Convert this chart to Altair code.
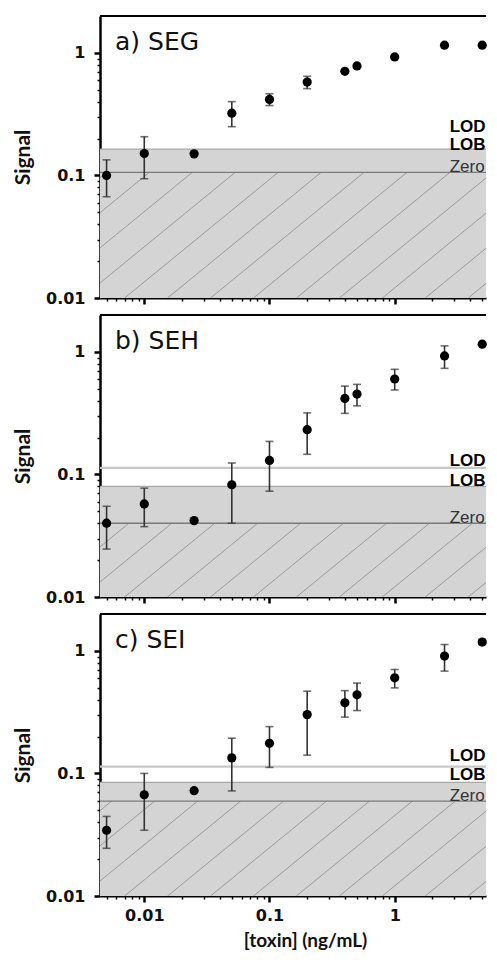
import altair as alt
import pandas as pd
import numpy as np

# ---------------- data ----------------
conc = [0.005, 0.01, 0.025, 0.05, 0.1, 0.2, 0.4, 0.5, 1, 2.5, 5]

seg_mean = [0.100, 0.151, 0.150, 0.322, 0.417, 0.578, 0.708, 0.782, 0.927, 1.156, 1.156]
seg_low  = [0.067, 0.094, 0.150, 0.250, 0.372, 0.511, 0.708, 0.782, 0.927, 1.156, 1.156]
seg_high = [0.134, 0.207, 0.150, 0.400, 0.464, 0.644, 0.708, 0.782, 0.927, 1.156, 1.156]

seh_mean = [0.040, 0.0575, 0.042, 0.0824, 0.130, 0.232, 0.417, 0.453, 0.601, 0.927, 1.156]
seh_low  = [0.0246, 0.0375, 0.042, 0.040, 0.073, 0.146, 0.315, 0.363, 0.489, 0.734, 1.156]
seh_high = [0.055, 0.0773, 0.042, 0.124, 0.186, 0.318, 0.526, 0.543, 0.721, 1.120, 1.156]

sei_mean = [0.0344, 0.067, 0.0723, 0.134, 0.176, 0.302, 0.377, 0.438, 0.603, 0.907, 1.180]
sei_low  = [0.0245, 0.0344, 0.0723, 0.072, 0.112, 0.141, 0.288, 0.326, 0.499, 0.684, 1.130]
sei_high = [0.0446, 0.100, 0.0723, 0.194, 0.241, 0.469, 0.474, 0.546, 0.705, 1.127, 1.240]

panel_titles = ["a) SEG", "b) SEH", "c) SEI"]
lod_line = [None, 0.113, 0.1135]
lob_line = [0.164, 0.080, 0.0845]
zero_line = [0.106, 0.040, 0.0594]
lod_label_y = [0.226, 0.118, 0.126]
lob_label_y = [0.162, 0.081, 0.089]
zero_label_y = [0.106, 0.040, 0.0594]
label_x = 2.75
threshold_names = ["LOD", "LOB", "Zero"]

x_major = [0.01, 0.1, 1]
x_major_labels = ["0.01", "0.1", "1"]
x_minor = [0.005, 0.006, 0.007, 0.008, 0.009,
           0.02, 0.03, 0.04, 0.05, 0.06, 0.07, 0.08, 0.09,
           0.2, 0.3, 0.4, 0.5, 0.6, 0.7, 0.8, 0.9,
           2, 3, 4, 5]
y_major = [0.01, 0.1, 1]
y_major_labels = ["0.01", "0.1", "1"]
y_minor = [0.02, 0.03, 0.04, 0.05, 0.06, 0.07, 0.08, 0.09,
           0.2, 0.3, 0.4, 0.5, 0.6, 0.7, 0.8, 0.9]

x_title = "[toxin] (ng/mL)"
y_title = "Signal"

# ---------------- layout / style ----------------
XMIN, XMAX = 0.00443, 5.36
YMIN, YMAX = 0.01, 2.0
W, H = 386, 282

HATCH_SLOPE = 0.836      # decades of y per decade of x
HATCH_STEP = 0.343       # decades of x between hatch lines
HATCH_PHASE = -2.157     # log10 x where a hatch line meets the bottom

xscale = alt.Scale(type="log", domain=[XMIN, XMAX], nice=False)
yscale = alt.Scale(type="log", domain=[YMIN, YMAX], nice=False)


def label_expr(values, labels):
    parts = " : ".join(f"datum.value == {v} ? '{l}'" for v, l in zip(values, labels))
    return parts + " : ''"


def major_test(values):
    return " || ".join(f"datum.value == {v}" for v in values)


def x_axis(show_labels):
    kw = dict(
        values=x_minor + x_major,
        tickSize={"condition": {"test": major_test(x_major), "value": 6}, "value": 3},
        tickWidth={"condition": {"test": major_test(x_major), "value": 2.5}, "value": 1.5},
        tickColor="black",
        domainColor="black",
        domainWidth=2,
        grid=False,
    )
    if show_labels:
        kw.update(
            labelExpr=label_expr(x_major, x_major_labels),
            labelFont="DejaVu Sans", labelFontWeight="bold", labelFontSize=16,
            labelColor="#111111", labelPadding=5, labelFlush=False,
            labelOverlap=False,
            title=x_title, titleFont="Lato", titleFontWeight="bold",
            titleFontSize=19, titleColor="#111111", titlePadding=8,
            titleX=205,
        )
    else:
        kw.update(labels=False, title=None)
    return alt.Axis(**kw)


def y_axis():
    return alt.Axis(
        values=y_minor + y_major,
        labelExpr=label_expr(y_major, y_major_labels),
        tickSize={"condition": {"test": major_test(y_major), "value": 6}, "value": 3},
        tickWidth={"condition": {"test": major_test(y_major), "value": 2.5}, "value": 1.5},
        tickColor="black",
        domainColor="black",
        domainWidth=2.5,
        grid=False,
        labelFont="DejaVu Sans", labelFontWeight="bold", labelFontSize=16,
        labelColor="#111111", labelPadding=9, labelOverlap=False, labelFlush=False,
        title=y_title, titleFont="Lato", titleFontWeight="bold",
        titleFontSize=21, titleColor="#111111", titlePadding=12,
    )


def hatch_frame(zero_val):
    """Diagonal hatch lines below the Zero level, clipped to the plot box."""
    lz = np.log10(zero_val)
    ly0 = np.log10(YMIN)
    lxa, lxb = np.log10(XMIN), np.log10(XMAX)
    rows = []
    for k in range(-15, 25):
        lx0 = HATCH_PHASE + k * HATCH_STEP
        lx1 = lx0 + (lz - ly0) / HATCH_SLOPE
        t0 = max(0.0, (lxa - lx0) / (lx1 - lx0))
        t1 = min(1.0, (lxb - lx0) / (lx1 - lx0))
        if t0 >= t1:
            continue
        rows.append({
            "x": 10 ** (lx0 + t0 * (lx1 - lx0)), "y": 10 ** (ly0 + t0 * (lz - ly0)),
            "x2": 10 ** (lx0 + t1 * (lx1 - lx0)), "y2": 10 ** (ly0 + t1 * (lz - ly0)),
        })
    return pd.DataFrame(rows)


def panel(i, mean, low, high, bottom):
    df = pd.DataFrame({"conc": conc, "mean": mean, "low": low, "high": high})
    X = alt.X("conc:Q", scale=xscale, axis=x_axis(bottom))

    band_df = pd.DataFrame({"y": [YMIN], "y2": [lob_line[i]]})
    band = alt.Chart(band_df).mark_rect(color="#d4d4d4").encode(
        x=alt.value(0), x2=alt.value(W),
        y=alt.Y("y:Q", scale=yscale, axis=y_axis()), y2="y2:Q")

    hatch = alt.Chart(hatch_frame(zero_line[i])).mark_rule(
        color="#8a8a8a", strokeWidth=0.8, clip=True).encode(
        x=alt.X("x:Q", scale=xscale, axis=x_axis(bottom)), x2="x2:Q",
        y=alt.Y("y:Q", scale=yscale), y2="y2:Q")

    lines = [{"y": lob_line[i], "c": "#a8a8a8", "w": 1.2},
             {"y": zero_line[i], "c": "#7a7a7a", "w": 1.4}]
    if lod_line[i] is not None:
        lines.append({"y": lod_line[i], "c": "#c8c8c8", "w": 2.2})
    line_df = pd.DataFrame(lines)
    hlines = alt.Chart(line_df).mark_rule().encode(
        y=alt.Y("y:Q", scale=yscale),
        color=alt.Color("c:N", scale=None),
        strokeWidth=alt.StrokeWidth("w:Q", scale=None))

    err = alt.Chart(df).mark_rule(color="#333333", strokeWidth=1.6).encode(
        x=X, y=alt.Y("low:Q", scale=yscale), y2="high:Q")
    cap_df = pd.concat([
        pd.DataFrame({"conc": conc, "v": low}),
        pd.DataFrame({"conc": conc, "v": high})])
    caps = alt.Chart(cap_df).mark_tick(
        color="#333333", orient="horizontal", size=8, thickness=1.6).encode(
        x=alt.X("conc:Q", scale=xscale), y=alt.Y("v:Q", scale=yscale))
    pts = alt.Chart(df).mark_circle(color="black", size=85, opacity=1).encode(
        x=alt.X("conc:Q", scale=xscale), y=alt.Y("mean:Q", scale=yscale))

    lab_df = pd.DataFrame({
        "name": threshold_names,
        "x": [label_x] * 3,
        "y": [lod_label_y[i], lob_label_y[i], zero_label_y[i]],
        "w": ["bold", "bold", "normal"],
    })
    labels_bold = alt.Chart(lab_df[lab_df.w == "bold"]).mark_text(
        font="Liberation Sans", fontSize=17, fontWeight="bold", align="left",
        baseline="alphabetic", clip=True, color="black").encode(
        x=alt.X("x:Q", scale=xscale), y=alt.Y("y:Q", scale=yscale), text="name:N")
    labels_norm = alt.Chart(lab_df[lab_df.w == "normal"]).mark_text(
        font="Liberation Sans", fontSize=17, align="left",
        baseline="alphabetic", clip=True, color="#333333").encode(
        x=alt.X("x:Q", scale=xscale), y=alt.Y("y:Q", scale=yscale), text="name:N")

    title = alt.Chart(pd.DataFrame({"t": [panel_titles[i]]})).mark_text(
        font="DejaVu Sans", fontSize=25, align="left", baseline="alphabetic",
        color="#111111").encode(x=alt.value(15), y=alt.value(34), text="t:N")

    top = alt.Chart(pd.DataFrame({"a": [0]})).mark_rule(
        color="black", strokeWidth=2).encode(
        x=alt.value(0), x2=alt.value(W), y=alt.value(0))

    return alt.layer(band, hatch, hlines, err, caps, pts,
                     labels_bold, labels_norm, title, top).properties(
        width=W, height=H)


pa = panel(0, seg_mean, seg_low, seg_high, False)
pb = panel(1, seh_mean, seh_low, seh_high, False)
pc = panel(2, sei_mean, sei_low, sei_high, True)

chart = alt.vconcat(pa, pb, pc, spacing=17, bounds="flush").properties(
    padding={"left": 4, "top": 7, "right": 0, "bottom": 0},
    background="white",
).configure_view(stroke=None)

chart.save("out.html", embed_options={"renderer": "svg", "actions": False})
